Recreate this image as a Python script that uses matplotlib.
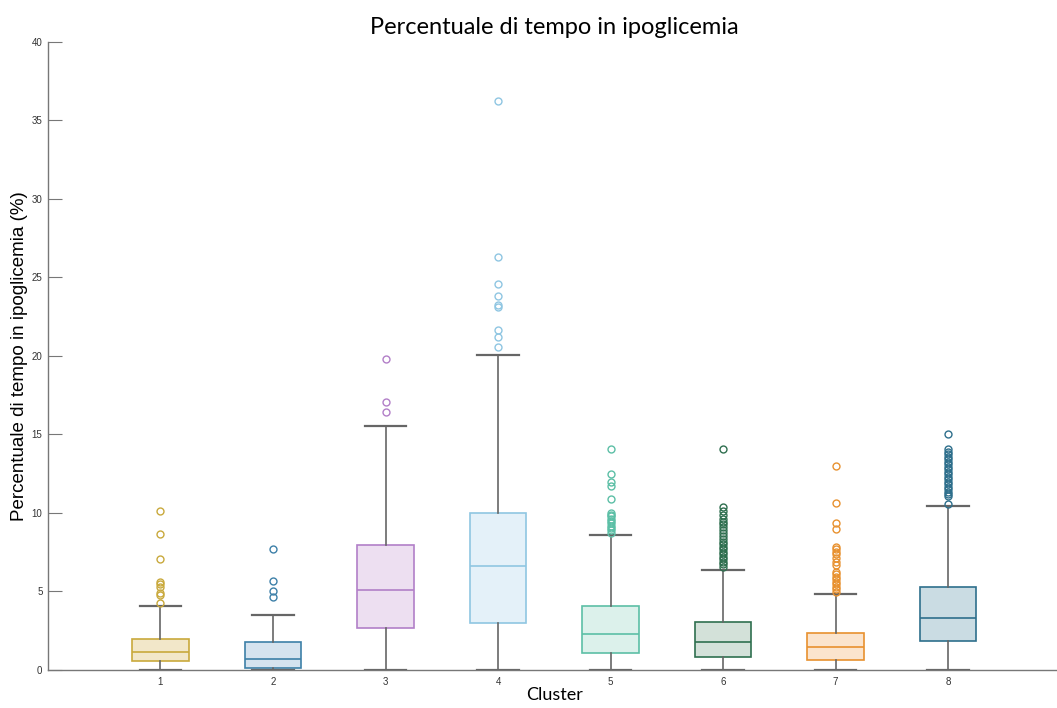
import matplotlib
matplotlib.use("Agg")
from matplotlib import pyplot as plt

# per-cluster box statistics (% time in hypoglycaemia)
clusters = ["1", "2", "3", "4", "5", "6", "7", "8"]
q1 = [0.57, 0.15, 2.68, 2.99, 1.06, 0.81, 0.64, 1.83]
medians = [1.15, 0.68, 5.08, 6.60, 2.27, 1.76, 1.44, 3.33]
q3 = [1.97, 1.80, 7.94, 9.98, 4.08, 3.08, 2.38, 5.27]
whislo = [0, 0, 0, 0, 0, 0, 0, 0]
whishi = [4.10, 3.52, 15.56, 20.06, 8.60, 6.37, 4.84, 10.45]

fliers_1 = [10.1, 8.64, 7.07, 5.62, 5.48, 5.30, 4.88, 4.78, 4.25]
fliers_2 = [7.73, 5.65, 5.05, 4.67]
fliers_3 = [19.8, 17.05, 16.43]
fliers_4 = [36.24, 26.3, 24.6, 23.8, 23.25, 23.14, 21.66, 21.2, 20.55]
fliers_5 = [14.06, 12.48, 12.0, 11.72, 10.87, 10.02, 9.87, 9.8, 9.6, 9.5,
            9.35, 9.2, 9.05, 8.9, 8.75]
fliers_6 = [14.06, 10.40, 10.13, 9.87, 9.60, 9.45, 9.28, 9.09, 8.92, 8.75,
            8.54, 8.32, 8.18, 8.03, 7.86, 7.69, 7.54, 7.39, 7.22, 7.05,
            6.90, 6.75, 6.58]
fliers_7 = [12.99, 10.62, 9.38, 9.0, 7.85, 7.69, 7.54, 7.39, 7.11, 6.9,
            6.69, 6.26, 6.11, 5.94, 5.78, 5.63, 5.48, 5.31, 5.14, 4.99]
fliers_8 = [15.05, 14.05, 13.9, 13.73, 13.58, 13.41, 13.27, 13.1, 12.95,
            12.78, 12.63, 12.46, 12.31, 12.14, 11.99, 11.85, 11.68, 11.51,
            11.36, 11.21, 11.08, 10.55]
fliers = [fliers_1, fliers_2, fliers_3, fliers_4,
          fliers_5, fliers_6, fliers_7, fliers_8]

edge_colors = ["#c9a93c", "#3d80a8", "#b27fc8", "#8fc6e2",
               "#5cbfa6", "#2f6f4f", "#e8912f", "#2e6f8c"]
face_colors = ["#f2e7c9", "#d5e3ef", "#eddff1", "#e4f1f9",
               "#dcf1eb", "#d3e1d9", "#fbe4cd", "#cadce3"]

stats = []
for i in range(len(clusters)):
    stats.append(dict(label=clusters[i], med=medians[i], q1=q1[i], q3=q3[i],
                      whislo=whislo[i], whishi=whishi[i], fliers=fliers[i]))

fig = plt.figure(figsize=(10.57, 7.08), dpi=100)
ax = fig.add_axes([0.0454, 0.0537, 0.958, 0.887])

positions = list(range(1, len(clusters) + 1))
bp = ax.bxp(stats, positions=positions, widths=0.5, capwidths=0.37,
            patch_artist=True, showfliers=True,
            whiskerprops=dict(color="#666666", linewidth=1.2),
            capprops=dict(color="#666666", linewidth=1.6))

for i in range(len(clusters)):
    bp["boxes"][i].set_facecolor(face_colors[i])
    bp["boxes"][i].set_edgecolor(edge_colors[i])
    bp["boxes"][i].set_linewidth(1.2)
    bp["medians"][i].set_color(edge_colors[i])
    bp["medians"][i].set_linewidth(1.2)
    bp["fliers"][i].set_marker("o")
    bp["fliers"][i].set_markerfacecolor("none")
    bp["fliers"][i].set_markeredgecolor(edge_colors[i])
    bp["fliers"][i].set_markersize(5)
    bp["fliers"][i].set_markeredgewidth(1.0)

ax.set_xlim(0, 9)
ax.set_ylim(0, 40)
ax.set_yticks(range(0, 41, 5))
ax.set_xticks(positions)
ax.set_xticklabels(clusters)

for side in ["top", "right"]:
    ax.spines[side].set_visible(False)
for side in ["left", "bottom"]:
    ax.spines[side].set_color("#777777")
    ax.spines[side].set_linewidth(1.0)

ax.tick_params(axis="y", direction="in", length=10, color="#777777",
               labelsize=7, labelcolor="#333333", pad=4)
ax.tick_params(axis="x", length=0, labelsize=7, labelcolor="#333333", pad=5)
for lbl in ax.get_xticklabels() + ax.get_yticklabels():
    lbl.set_family("Liberation Sans")

ax.set_title("Percentuale di tempo in ipoglicemia", fontsize=17,
             family="Lato", pad=6)
ax.set_xlabel("Cluster", fontsize=13, family="Lato", labelpad=0)
ax.set_ylabel("Percentuale di tempo in ipoglicemia (%)", fontsize=13.5,
              family="Liberation Sans", labelpad=3)

fig.savefig("out.png", dpi=100)
